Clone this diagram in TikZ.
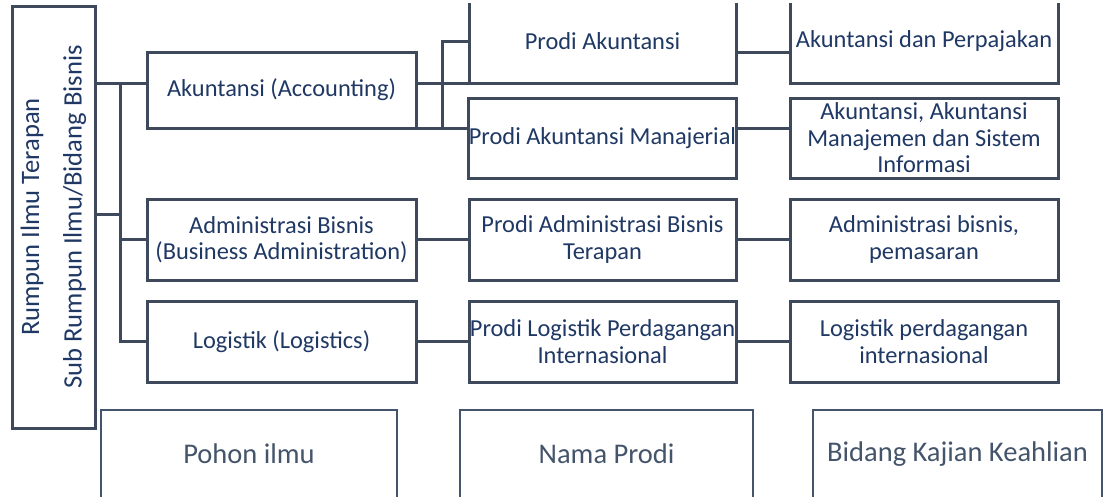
\documentclass[tikz,border=0pt]{standalone}
\usepackage{fontspec}
\setmainfont{Carlito}
\definecolor{edge}{HTML}{3E4A5C}
\definecolor{navy}{HTML}{1F3864}
\definecolor{slate}{HTML}{44546A}
\begin{document}
\begin{tikzpicture}[x=1pt,y=-1pt,
  box/.style={draw=edge, line width=3pt, text=navy, align=center, inner sep=0pt, outer sep=0pt,
    font=\fontsize{24.4}{26.5}\selectfont},
  lbl/.style={draw=slate, line width=1.6pt, text=slate, align=center, inner sep=0pt, outer sep=0pt,
    font=\fontsize{28.5}{32}\selectfont},
  conn/.style={draw=edge, line width=3pt}]
\useasboundingbox (0,0) rectangle (1104,496);
\clip (0,3) rectangle (1104,496);
% left box
\node[box, rotate=90, minimum width=422pt, minimum height=83pt,
  font=\fontsize{26.6}{42.5}\selectfont] (L) at (53.5,217)
  {Rumpun Ilmu Terapan\\Sub Rumpun Ilmu/Bidang Bisnis};
% column 1
\node[box, minimum width=269pt, minimum height=76pt] (A1) at (281.5,90) {Akuntansi (Accounting)};
\node[box, minimum width=269pt, minimum height=81pt] (A2) at (281.5,239.5) {Administrasi Bisnis\\(Business Administration)};
\node[box, minimum width=269pt, minimum height=81pt] (A3) at (281.5,341.5) {Logistik (Logistics)};
% column 2
\node[box, minimum width=267pt, minimum height=84pt] (P1) at (602.5,41) {Prodi Akuntansi};
\node[box, minimum width=267pt, minimum height=80pt] (P2) at (602.5,138) {Prodi Akuntansi Manajerial};
\node[box, minimum width=267pt, minimum height=81pt] (P3) at (602.5,239.5) {Prodi Administrasi Bisnis\\Terapan};
\node[box, minimum width=267pt, minimum height=81pt] (P4) at (602.5,341.5) {Prodi Logistik Perdagangan\\Internasional};
% column 3
\node[box, minimum width=268pt, minimum height=84pt] (B1) at (924,41) {Akuntansi dan Perpajakan};
\node[box, minimum width=268pt, minimum height=80pt] (B2) at (924,138) {Akuntansi, Akuntansi\\Manajemen dan Sistem\\Informasi};
\node[box, minimum width=268pt, minimum height=81pt] (B3) at (924,239.5) {Administrasi bisnis,\\pemasaran};
\node[box, minimum width=268pt, minimum height=81pt] (B4) at (924,341.5) {Logistik perdagangan\\internasional};
% bottom labels
\node[lbl, minimum width=296pt, minimum height=88pt] (Q1) at (249,454) {Pohon ilmu};
\node[lbl, minimum width=293pt, minimum height=88pt] (Q2) at (606.5,454) {Nama Prodi};
\node[lbl, minimum width=289pt, minimum height=88pt] (Q3) at (957.5,454) {Bidang Kajian Keahlian};
% helper coordinates
\coordinate (yA) at (0,83);
\coordinate (yB) at (0,214);
\coordinate (yC) at (0,52);
\coordinate (T) at (120,0);
\coordinate (E) at (442,0);
% connectors
\draw[conn] (L.south |- yA) -- (A1.west |- yA);
\draw[conn] (L.south |- yB) -- (T |- yB);
\draw[conn] (T |- yA) -- (T |- A3.west) -- (A3.west);
\draw[conn] (T |- A2.west) -- (A2.west);
\draw[conn] (A1.east |- yA) -- (P1.south west);
\draw[conn] (A1.south east) -- (P2.west |- A1.south east);
\draw[conn] (E |- A1.south east) -- (E |- P1.west) -- (P1.west);
\draw[conn] (P1.east |- yC) -- (B1.west |- yC);
\draw[conn] (P2.east |- A1.south east) -- (B2.west |- A1.south east);
\draw[conn] (A2.east) -- (P3.west);
\draw[conn] (P3.east) -- (B3.west);
\draw[conn] (A3.east) -- (P4.west);
\draw[conn] (P4.east) -- (B4.west);
\end{tikzpicture}
\end{document}
